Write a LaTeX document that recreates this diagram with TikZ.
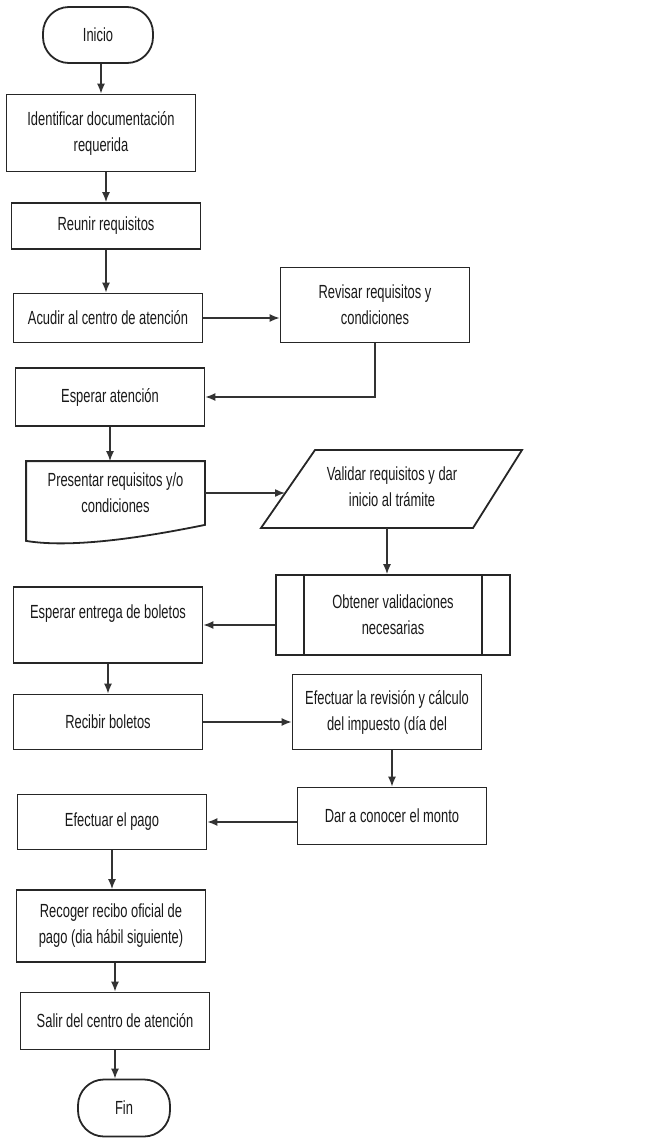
\documentclass[tikz,border=0pt]{standalone}
\usepackage{fontspec}
\newfontfamily\diagfont[FakeStretch=0.68]{Liberation Sans}
\usepackage{tikz}
\usetikzlibrary{arrows.meta,calc}

\begin{document}
\begin{tikzpicture}[x=0.5pt,y=-0.5pt,
	borde/.style={draw=black!85,line width=0.9pt},
	caja/.style={borde,rectangle,minimum width=94.5pt,align=center,inner sep=2pt,
		font={\diagfont\fontsize{9.5}{13}\selectfont},text=black!90},
	terminal/.style={caja,rounded corners=13pt},
	flecha/.style={draw=black!80,line width=0.7pt,arrows={-Latex[length=5pt,width=4pt]}}]
						\useasboundingbox (0,0) rectangle (671,1141);
						
						% columna izquierda
						\node[terminal,minimum width=55pt,minimum height=28pt] (inicio) at (98,35) {Inicio};
						\node[caja,minimum height=38.5pt] (ident) at (101,133) {Identificar documentación\\requerida};
						\node[caja,minimum height=23pt] (reunir) at (106,226) {Reunir requisitos};
						\node[caja,minimum height=24.5pt] (acudir) at (108,318) {Acudir al centro de atención};
						\node[caja,minimum height=29pt] (esperar) at (110,397) {Esperar atención};
						\node[caja,draw=none,minimum width=88.5pt,minimum height=31pt] (presentar) at (115.5,493) {Presentar requisitos y/o\\condiciones};
						\draw[borde] (presentar.north west) -- (presentar.north east) -- (presentar.south east)
							.. controls +(-54,11) and +(48,8) .. ([yshift=-8pt]presentar.south west) -- cycle;
						\node[caja,minimum height=38pt] (entrega) at (108,625) {Esperar entrega de boletos\\ \mbox{}};
						\node[caja,minimum height=27.5pt] (recibir) at (108,722) {Recibir boletos};
						\node[caja,minimum height=27.5pt] (pago) at (112,822) {Efectuar el pago};
						\node[caja,minimum height=36pt] (recoger) at (111,926) {Recoger recibo oficial de\\pago (dia hábil siguiente)};
						\node[caja,minimum height=28.5pt] (salir) at (115,1021) {Salir del centro de atención};
						\node[terminal,minimum width=46pt,minimum height=28.5pt] (fin) at (124,1108) {Fin};
						
						% columna derecha
						\node[caja,minimum height=37.5pt] (revisar) at (375,305) {Revisar requisitos y\\condiciones};
						\node[caja,draw=none] (validar) at (392,487) {Validar requisitos y dar\\inicio al trámite};
						\draw[borde] (261,528) -- (315,450) -- (522,450) -- (473,528) -- cycle;
						\coordinate (validarin) at (285,493);
						\coordinate (validarout) at (387,528);
						\node[caja,minimum width=117pt,minimum height=40pt] (obtener) at (393,615) {Obtener validaciones\\necesarias};
						\draw[borde] ([xshift=14.5pt]obtener.north west) -- ([xshift=14.5pt]obtener.south west);
						\draw[borde] ([xshift=-14.5pt]obtener.north east) -- ([xshift=-14.5pt]obtener.south east);
						\node[caja,minimum height=37.5pt] (revision) at (387,712) {Efectuar la revisión y cálculo\\del impuesto (día del};
						\node[caja,minimum height=28.5pt] (monto) at (392,816) {Dar a conocer el monto};
						
						% flechas
						\draw[flecha] (ident.north |- inicio.south) -- (ident.north);
						\draw[flecha] (reunir.north |- ident.south) -- (reunir.north);
						\draw[flecha] (reunir.south) -- (reunir.south |- acudir.north);
						\draw[flecha] (acudir.east) -- (acudir.east -| revisar.west);
						\draw[flecha] (revisar.south) |- (esperar.east);
						\draw[flecha] (esperar.south) -- (esperar.south |- presentar.north);
						\draw[flecha] (presentar.east) -- (validarin);
						\draw[flecha] (validarout) -- (validarout |- obtener.north);
						\draw[flecha] (entrega.east -| obtener.west) -- (entrega.east);
						\draw[flecha] (entrega.south) -- (entrega.south |- recibir.north);
						\draw[flecha] (recibir.east) -- (recibir.east -| revision.west);
						\draw[flecha] (monto.north |- revision.south) -- (monto.north);
						\draw[flecha] (pago.east -| monto.west) -- (pago.east);
						\draw[flecha] (pago.south) -- (pago.south |- recoger.north);
						\draw[flecha] (salir.north |- recoger.south) -- (salir.north);
						\draw[flecha] (salir.south) -- (salir.south |- fin.north);
					\end{tikzpicture}
\end{document}
